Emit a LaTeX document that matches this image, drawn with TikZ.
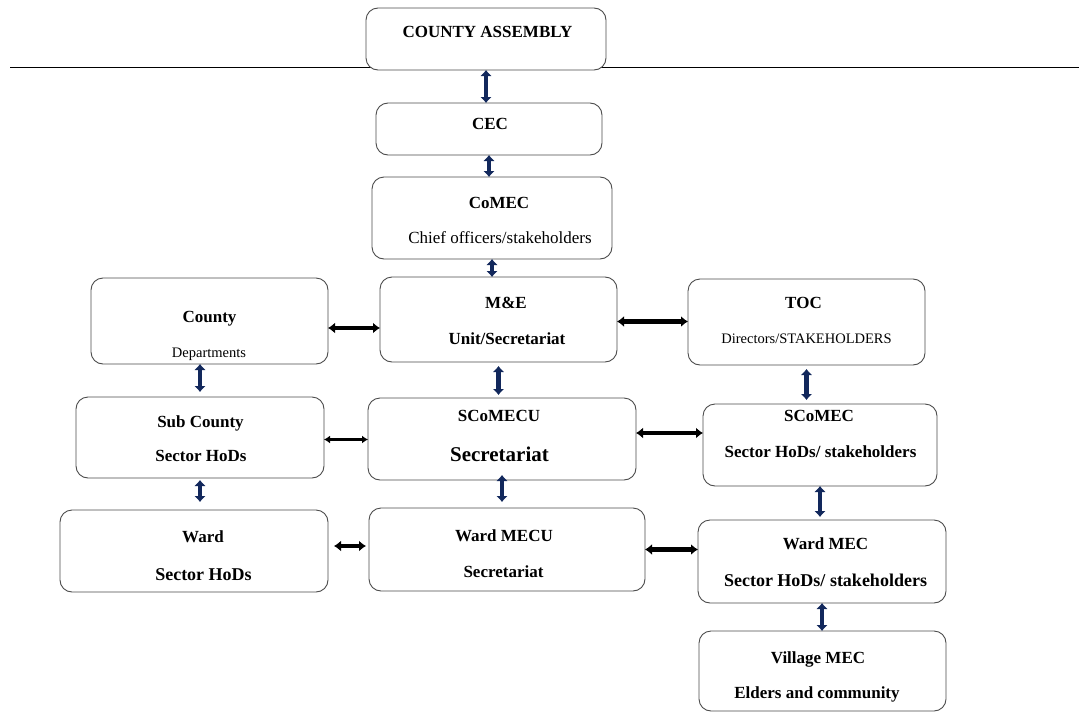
\documentclass[tikz,border=0pt]{standalone}
\usepackage{fontspec}
\setmainfont{Liberation Serif}
\usetikzlibrary{arrows.meta}

\definecolor{navy}{RGB}{18,40,92}

\tikzset{
  box/.style={draw=black!70, line width=0.9pt, rounded corners=12pt, fill=white, inner sep=0pt, outer sep=0pt},
  head/.style={font=\fontsize{17}{20}\selectfont\bfseries, text height=0.66em, text depth=0pt, inner sep=0pt, yshift=-3pt},
  plain/.style={font=\fontsize{17}{20}\selectfont, text height=0.66em, text depth=0pt, inner sep=0pt, yshift=-3pt},
  small/.style={font=\fontsize{14.5}{17}\selectfont, text height=0.66em, text depth=0pt, inner sep=0pt, yshift=-3pt},
  big/.style={font=\fontsize{21}{24}\selectfont\bfseries, text height=0.66em, text depth=0pt, inner sep=0pt, yshift=-3pt},
  vlink/.style={navy, line width=4.6pt, {Latex[length=6pt,width=12pt]}-{Latex[length=6pt,width=12pt]}},
  hlink/.style={black, line width=4.2pt, {Latex[length=7pt,width=11pt]}-{Latex[length=7pt,width=11pt]}},
  thinlink/.style={black, line width=2.4pt, {Latex[length=6pt,width=8pt]}-{Latex[length=6pt,width=8pt]}}
}

\begin{document}
\begin{tikzpicture}[x=1pt, y=-1pt]

\useasboundingbox (0,0) rectangle (1079,712);

% Dividing line under the assembly
\draw[black, line width=1pt] (10,67) -- (1079,67);

% Boxes
\node[box, minimum width=240pt, minimum height=62pt] (ca) at (486,39) {};
\node[box, minimum width=226pt, minimum height=52pt] (cec) at (489,129) {};
\node[box, minimum width=240pt, minimum height=82pt] (comec) at (492,218) {};
\node[box, minimum width=237pt, minimum height=86pt] (county) at (209.5,321) {};
\node[box, minimum width=237pt, minimum height=85pt] (me) at (498.5,319.5) {};
\node[box, minimum width=237pt, minimum height=86pt] (toc) at (806.5,322) {};
\node[box, minimum width=248pt, minimum height=81pt] (subc) at (200,437.5) {};
\node[box, minimum width=268pt, minimum height=82pt] (scomecu) at (502,439) {};
\node[box, minimum width=234pt, minimum height=82pt] (scomec) at (820,445) {};
\node[box, minimum width=268pt, minimum height=82pt] (ward) at (194,551) {};
\node[box, minimum width=276pt, minimum height=83pt] (wmecu) at (507,549.5) {};
\node[box, minimum width=248pt, minimum height=83pt] (wmec) at (822,561.5) {};
\node[box, minimum width=247pt, minimum height=80pt] (village) at (822.5,671) {};

% Texts
\node[head] (ca-t) at (487.5,31) {COUNTY ASSEMBLY};
\node[head] (cec-t) at (490,123) {CEC};
\node[head] (comec-t) at (499,202) {CoMEC};
\node[plain] (comec-s) at (500,237) {Chief officers/stakeholders};
\node[head] (county-t) at (209.5,316) {County};
\node[small] (county-s) at (209,351) {Departments};
\node[head] (me-t) at (506,302) {M\&E};
\node[head] (me-s) at (507,338) {Unit/Secretariat};
\node[head] (toc-t) at (803.5,302) {TOC};
\node[small] (toc-s) at (806.5,337) {Directors/STAKEHOLDERS};
\node[head] (subc-t) at (200.5,421) {Sub County};
\node[head] (subc-s) at (201,455) {Sector HoDs};
\node[head] (scomecu-t) at (499,415) {SCoMECU};
\node[big] (scomecu-s) at (499.5,455) {Secretariat};
\node[head] (scomec-t) at (819,415) {SCoMEC};
\node[head] (scomec-s) at (820.5,451) {Sector HoDs/ stakeholders};
\node[head] (ward-t) at (203,536) {Ward};
\node[head, font=\fontsize{18}{21}\selectfont\bfseries] (ward-s) at (203.5,574) {Sector HoDs};
\node[head] (wmecu-t) at (504,535) {Ward MECU};
\node[head] (wmecu-s) at (503.5,571) {Secretariat};
\node[head] (wmec-t) at (825.5,543) {Ward MEC};
\node[head, font=\fontsize{18}{21}\selectfont\bfseries] (wmec-s) at (825.5,580) {Sector HoDs/ stakeholders};
\node[head] (village-t) at (818,657) {Village MEC};
\node[head] (village-s) at (817,692) {Elders and community};

% Vertical links
\draw[vlink] (ca.south) -- (ca.south |- cec.north);
\draw[vlink] (cec.south) -- (cec.south |- comec.north);
\draw[vlink] (comec.south) -- (comec.south |- me.north);
\draw[vlink] (county.south -| subc.north) -- ([yshift=5pt]subc.north);
\draw[vlink] ([yshift=-2pt]subc.south) -- ([yshift=8pt]subc.south |- ward.north);
\draw[vlink] ([yshift=-4pt]me.south) -- ([yshift=3pt]me.south |- scomecu.north);
\draw[vlink] ([yshift=-4pt]toc.south) -- ([yshift=4pt]toc.south |- scomec.north);
\draw[vlink] ([yshift=5pt]scomecu.south) -- ([yshift=6pt]scomecu.south |- wmecu.north);
\draw[vlink] (scomec.south) -- ([yshift=3pt]scomec.south |- wmec.north);
\draw[vlink] (wmec.south) -- (wmec.south |- village.north);

% Horizontal links
\draw[hlink] ([yshift=-7pt]county.east) -- ([yshift=-7pt]county.east -| me.west);
\draw[hlink] ([yshift=-2pt]me.east) -- ([yshift=-2pt]me.east -| toc.west);
\draw[thinlink] ([yshift=-2pt]subc.east) -- ([yshift=-2pt]subc.east -| scomecu.west);
\draw[hlink] ([yshift=6pt]scomecu.east) -- ([yshift=6pt]scomecu.east -| scomec.west);
\draw[hlink] ([xshift=6pt, yshift=5pt]ward.east) -- ([xshift=-3pt, yshift=5pt]ward.east -| wmecu.west);
\draw[hlink] (wmecu.east) -- (wmecu.east -| wmec.west);

\end{tikzpicture}
\end{document}
